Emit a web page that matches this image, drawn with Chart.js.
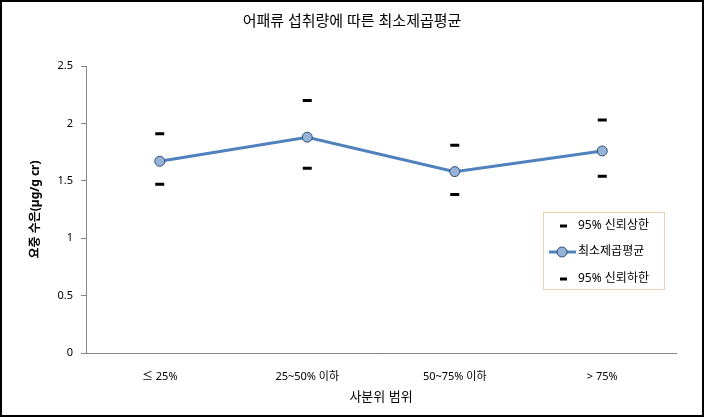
<!DOCTYPE html>
<html lang="ko">
<head>
    <meta charset="UTF-8">
    <title>최소제곱평균</title>
    <style>
        body { margin: 0; background: white; }
        #wrap { position: relative; width: 704px; height: 417px; }
    </style>
</head>
<body>
    <div id="wrap"><canvas id="chart"></canvas></div>

    <script src="https://cdn.jsdelivr.net/npm/chart.js@4.4.0/dist/chart.umd.min.js"></script>
    <script>
        // 사분위 범주
        const categories = ['≤ 25%', '25~50% 이하', '50~75% 이하', '> 75%'];
        const upper = [1.91, 2.20, 1.81, 2.03];
        const lsMean = [1.67, 1.88, 1.58, 1.76];
        const lower = [1.47, 1.61, 1.38, 1.54];
        const yTicks = [0, 0.5, 1, 1.5, 2, 2.5];

        const fontFam = '"Noto Sans", "Noto Sans CJK KR", sans-serif';
        const axisGray = '#868686';

        // 바깥 테두리 + 범례 상자
        const frame = {
            id: 'frame',
            afterDraw(chart) {
                const ctx = chart.ctx;
                ctx.save();
                ctx.strokeStyle = '#000';
                ctx.lineWidth = 2;
                ctx.strokeRect(1, 1, chart.width - 2, chart.height - 2);

                // legend
                const bx = 543, by = 212, bw = 121, bh = 77;
                ctx.fillStyle = '#fff';
                ctx.fillRect(bx, by, bw, bh);
                ctx.strokeStyle = '#ecd3b4';
                ctx.lineWidth = 1;
                ctx.strokeRect(bx + 0.5, by + 0.5, bw, bh);

                const rows = [226, 252, 279];
                ctx.font = '12px ' + fontFam;
                ctx.textBaseline = 'middle';
                chart.data.datasets.forEach((ds, i) => {
                    const y = rows[i];
                    if (ds.showLine) {
                        ctx.strokeStyle = ds.borderColor;
                        ctx.lineWidth = 3;
                        ctx.beginPath();
                        ctx.moveTo(549, y);
                        ctx.lineTo(576, y);
                        ctx.stroke();
                        ctx.beginPath();
                        ctx.arc(562, y, 5, 0, Math.PI * 2);
                        ctx.fillStyle = ds.pointBackgroundColor;
                        ctx.fill();
                        ctx.strokeStyle = ds.pointBorderColor;
                        ctx.lineWidth = 1;
                        ctx.stroke();
                    } else {
                        ctx.strokeStyle = '#000';
                        ctx.lineWidth = 3;
                        ctx.beginPath();
                        ctx.moveTo(560, y);
                        ctx.lineTo(567, y);
                        ctx.stroke();
                    }
                    ctx.fillStyle = '#000';
                    ctx.textAlign = 'left';
                    ctx.fillText(ds.label, 578, y);
                });
                ctx.restore();
            }
        };

        new Chart(document.getElementById('chart'), {
            type: 'line',
            data: {
                labels: categories,
                datasets: [{
                    label: '95% 신뢰상한',
                    data: upper,
                    showLine: false,
                    pointStyle: 'line',
                    pointRadius: 4.5,
                    pointBorderWidth: 3,
                    pointBorderColor: '#000',
                    borderColor: '#000',
                }, {
                    label: '최소제곱평균',
                    data: lsMean,
                    showLine: true,
                    borderColor: '#4f81bd',
                    borderWidth: 3,
                    pointRadius: 5,
                    pointBackgroundColor: '#95b3d7',
                    pointBorderColor: '#2c4d75',
                    pointBorderWidth: 1,
                    tension: 0,
                }, {
                    label: '95% 신뢰하한',
                    data: lower,
                    showLine: false,
                    pointStyle: 'line',
                    pointRadius: 4.5,
                    pointBorderWidth: 3,
                    pointBorderColor: '#000',
                    borderColor: '#000',
                }]
            },
            options: {
                responsive: true,
                maintainAspectRatio: false,
                animation: false,
                layout: { padding: 0 },
                plugins: {
                    legend: { display: false },
                    tooltip: { enabled: false },
                    title: {
                        display: true,
                        text: '어패류 섭취량에 따른 최소제곱평균',
                        color: '#000',
                        font: { family: fontFam, size: 15, weight: 'normal' },
                        padding: { top: 13, bottom: 35 },
                    },
                },
                scales: {
                    x: {
                        offset: true,
                        grid: { display: false, drawTicks: false },
                        border: { display: true, color: axisGray, width: 1 },
                        ticks: {
                            color: '#000',
                            padding: 17,
                            font: { family: fontFam, size: 11 },
                        },
                        title: {
                            display: true,
                            text: '사분위 범위',
                            color: '#000',
                            font: { family: fontFam, size: 13 },
                            padding: { top: 6, bottom: 12 },
                        },
                        afterFit: s => { s.height = 64; },
                    },
                    y: {
                        min: 0,
                        max: 2.5,
                        afterBuildTicks: s => { s.ticks = yTicks.map(v => ({ value: v })); },
                        grid: {
                            drawOnChartArea: false,
                            drawTicks: true,
                            tickLength: 5,
                            color: axisGray,
                        },
                        border: { display: true, color: axisGray, width: 1 },
                        ticks: {
                            color: '#000',
                            padding: 8,
                            font: { family: fontFam, size: 11 },
                            callback: v => String(v),
                        },
                        title: {
                            display: true,
                            text: '요중 수은(µg/g cr)',
                            color: '#000',
                            font: { family: fontFam, size: 12, weight: 'bold' },
                            padding: { top: 28, bottom: 0 },
                        },
                        afterFit: s => { s.width = 86; },
                    },
                    // 오른쪽 여백용 빈 축
                    yPad: {
                        position: 'right',
                        display: true,
                        grid: { display: false, drawTicks: false },
                        border: { display: false },
                        ticks: { display: false },
                        afterFit: s => { s.width = 28; },
                    }
                }
            },
            plugins: [frame]
        });
    </script>
</body>
</html>
